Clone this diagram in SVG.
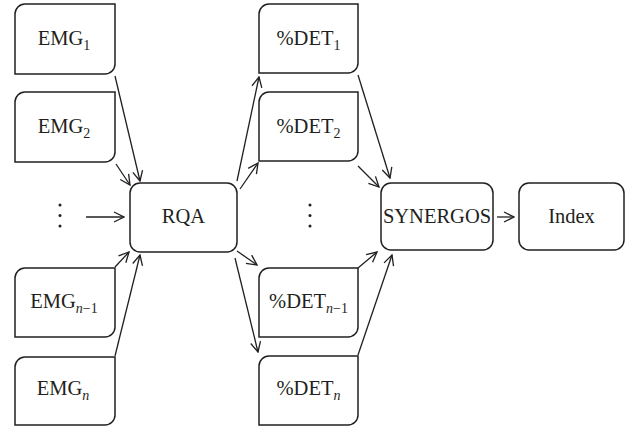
<svg xmlns="http://www.w3.org/2000/svg" width="625" height="427" viewBox="0 0 625 427">
<style>
.box{fill:#fff;stroke:#231f20;stroke-width:1.5}
.lbl{font-family:"Liberation Serif",serif;font-size:20.5px;fill:#231f20;text-anchor:middle}
.sub{font-size:14px}
.it{font-style:italic}
.con{fill:none;stroke:#231f20;stroke-width:1.3;marker-end:url(#ah)}
.dot{fill:#231f20}
</style>
<defs>
<marker id="ah" viewBox="0 0 12 12" refX="11" refY="6" markerWidth="12" markerHeight="12" markerUnits="userSpaceOnUse" orient="auto">
<path d="M1,1 L11,6 L1,11" fill="none" stroke="#231f20" stroke-width="1.3"/>
</marker>
</defs>
<rect width="625" height="427" fill="#fff"/>
<g id="connectors">
<line class="con" x1="115" y1="76" x2="140" y2="181"/>
<line class="con" x1="116" y1="164" x2="130" y2="185"/>
<line class="con" x1="86" y1="217" x2="124" y2="217"/>
<line class="con" x1="115" y1="267" x2="129" y2="252"/>
<line class="con" x1="115" y1="356" x2="140" y2="255"/>
<line class="con" x1="237" y1="181" x2="259" y2="77"/>
<line class="con" x1="240" y1="189" x2="258" y2="163"/>
<line class="con" x1="237" y1="251" x2="257" y2="265"/>
<line class="con" x1="235" y1="258" x2="258" y2="352"/>
<line class="con" x1="358" y1="75" x2="390" y2="178"/>
<line class="con" x1="358" y1="166" x2="379" y2="187"/>
<line class="con" x1="358" y1="268" x2="377" y2="252"/>
<line class="con" x1="358" y1="355" x2="392" y2="255"/>
<line class="con" x1="497" y1="217" x2="514" y2="217"/>
</g>
<g id="emg1"><path class="box" d="M15,74 V14 A10,10 0 0 1 25,4 H115 V64 A10,10 0 0 1 105,74 Z"/><text class="lbl" x="64" y="45">EMG<tspan class="sub" dy="5">1</tspan></text></g>
<g id="emg2"><path class="box" d="M15,162 V102 A10,10 0 0 1 25,92 H115 V152 A10,10 0 0 1 105,162 Z"/><text class="lbl" x="64" y="133">EMG<tspan class="sub" dy="5">2</tspan></text></g>
<g id="emgdots"><circle class="dot" cx="60" cy="205" r="1.5"/><circle class="dot" cx="60" cy="215.5" r="1.5"/><circle class="dot" cx="60" cy="226" r="1.5"/></g>
<g id="emgn1"><path class="box" d="M15,337 V278 A10,10 0 0 1 25,268 H115 V327 A10,10 0 0 1 105,337 Z"/><text class="lbl" x="64" y="308">EMG<tspan class="sub it" dy="5">n</tspan><tspan class="sub" dy="0">−1</tspan></text></g>
<g id="emgn"><path class="box" d="M15,425 V367 A10,10 0 0 1 25,357 H115 V415 A10,10 0 0 1 105,425 Z"/><text class="lbl" x="63" y="395">EMG<tspan class="sub it" dy="5">n</tspan></text></g>
<g id="rqa"><rect class="box" x="130" y="183" width="107" height="69" rx="10"/><text class="lbl" x="183.5" y="223">RQA</text></g>
<g id="det1"><path class="box" d="M259,73 V14 A10,10 0 0 1 269,4 H358 V63 A10,10 0 0 1 348,73 Z"/><text class="lbl" x="308.5" y="45">%DET<tspan class="sub" dy="5">1</tspan></text></g>
<g id="det2"><path class="box" d="M259,161 V102 A10,10 0 0 1 269,92 H358 V151 A10,10 0 0 1 348,161 Z"/><text class="lbl" x="308.5" y="133">%DET<tspan class="sub" dy="5">2</tspan></text></g>
<g id="detdots"><circle class="dot" cx="310" cy="205" r="1.5"/><circle class="dot" cx="310" cy="215.5" r="1.5"/><circle class="dot" cx="310" cy="226" r="1.5"/></g>
<g id="detn1"><path class="box" d="M259,337 V278 A10,10 0 0 1 269,268 H358 V327 A10,10 0 0 1 348,337 Z"/><text class="lbl" x="308.5" y="308">%DET<tspan class="sub it" dy="5">n</tspan><tspan class="sub" dy="0">−1</tspan></text></g>
<g id="detn"><path class="box" d="M259,425 V366 A10,10 0 0 1 269,356 H358 V415 A10,10 0 0 1 348,425 Z"/><text class="lbl" x="308.5" y="395">%DET<tspan class="sub it" dy="5">n</tspan></text></g>
<g id="synergos"><rect class="box" x="381" y="183" width="112" height="67" rx="10"/><text class="lbl" x="437" y="223">SYNERGOS</text></g>
<g id="index"><rect class="box" x="519" y="183" width="105" height="67" rx="10"/><text class="lbl" x="571.5" y="223">Index</text></g>
</svg>
